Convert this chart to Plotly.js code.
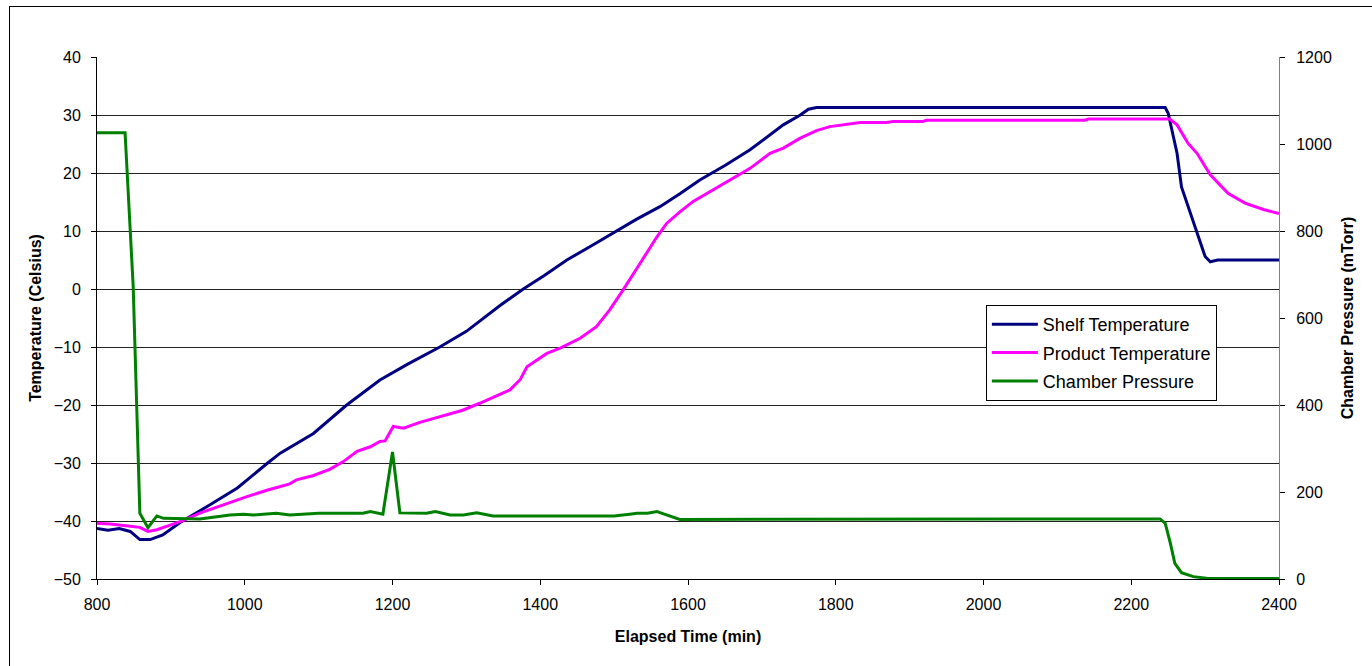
<!DOCTYPE html>
<html>
<head>
<meta charset="utf-8">
<script src="https://cdn.plot.ly/plotly-3.0.1.min.js"></script>
<style>
  html, body { margin:0; padding:0; background:#fff; overflow:hidden; }
  #wrap { position:relative; width:1372px; height:666px; }
  #chart { position:absolute; left:0; top:0; width:1372px; height:666px; }
  #frame { position:absolute; left:9px; top:6px; width:1400px; height:700px; border:1px solid #000; pointer-events:none; }
</style>
</head>
<body>
<div id="wrap">
  <div id="chart"></div>
  <div id="frame"></div>
</div>
<script>
// Shelf temperature (Celsius)
const shelfTime = [800,815,830,845,858,872,889,912,953,990,1031,1048,1093,1138,1183,1220,1264,1300,1346,1377,1405,1436,1470,1503,1530,1562,1590,1616,1650,1684,1705,1729,1752,1763,1774,2246,2250,2262,2268,2280,2293,2300,2307,2317,2400];
const shelfTemp = [-41.3,-41.6,-41.3,-41.8,-43.2,-43.2,-42.4,-40.3,-37.2,-34.3,-30,-28.3,-24.9,-20,-15.7,-13,-10,-7.3,-2.8,0,2.3,5,7.5,10,12,14.2,16.5,18.8,21.3,24,26,28.3,30,31,31.3,31.3,30.3,23.4,17.6,13.0,8.4,5.6,4.7,5.0,5.0];

// Product temperature (Celsius)
const productTime = [800,818,845,858,869,881,899,917,940,971,1003,1030,1061,1070,1092,1115,1133,1152,1170,1183,1190,1201,1215,1237,1264,1295,1318,1342,1359,1373,1382,1409,1427,1454,1476,1494,1512,1535,1558,1571,1589,1607,1630,1657,1684,1711,1729,1752,1774,1792,1815,1833,1869,1878,1918,1923,2137,2142,2252,2262,2277,2289,2307,2331,2354,2379,2400];
const productTemp = [-40.4,-40.5,-40.9,-41.1,-41.8,-41.5,-40.7,-39.9,-38.6,-37.2,-35.8,-34.7,-33.6,-32.9,-32.2,-31.1,-29.8,-28,-27.2,-26.3,-26.2,-23.7,-24.0,-23.0,-22,-20.9,-19.7,-18.4,-17.4,-15.6,-13.4,-11.1,-10.2,-8.5,-6.5,-3.6,-0.2,4.4,9.0,11.3,13.3,15.1,16.8,18.8,20.8,23.4,24.3,26.0,27.3,28.0,28.4,28.7,28.7,28.9,28.9,29.1,29.1,29.3,29.3,28.3,25.1,23.4,19.7,16.5,14.8,13.7,13.0];

// Chamber pressure (mTorr)
const pressureTime = [800,838,849,858,869,881,890,926,939,957,980,998,1012,1025,1043,1061,1100,1160,1170,1187,1200,1210,1246,1258,1278,1296,1314,1336,1386,1500,1521,1531,1545,1558,1563,1580,1589,2239,2246,2253,2259,2268,2284,2302,2400];
const pressureVal = [1026,1026,672,151,118,145,139.5,139.5,138,142,147,149,147,149,151,147,151,151,155,149,292,152,151,155,147,147,152,145,145,145,149,151,151,155,152,142,137,138,128,82,36,14.6,5.4,1.6,1];

const seriesNames = ['Shelf Temperature','Product Temperature','Chamber Pressure'];
const seriesColors = ['#000080','#FF00FF','#008000'];

const FONT = 'Arial, "Liberation Sans", sans-serif';

const traces = [
  {x: shelfTime, y: shelfTemp, name: seriesNames[0], type:'scatter', mode:'lines',
   line:{color:seriesColors[0], width:3}, legendgroup:'a', yaxis:'y'},
  {x: productTime, y: productTemp, name: seriesNames[1], type:'scatter', mode:'lines',
   line:{color:seriesColors[1], width:3}, legendgroup:'b', yaxis:'y'},
  {x: pressureTime, y: pressureVal, name: seriesNames[2], type:'scatter', mode:'lines',
   line:{color:seriesColors[2], width:3}, legendgroup:'c', yaxis:'y2'}
];

const layout = {
  width:1372, height:666,
  margin:{l:97, r:93, t:57, b:87, pad:0},
  paper_bgcolor:'rgba(0,0,0,0)', plot_bgcolor:'#fff',
  font:{family:FONT, size:16, color:'#000'},
  showlegend:true,
  legend:{x:0.752, y:0.525, xanchor:'left', yanchor:'top', bgcolor:'#fff',
          bordercolor:'#000', borderwidth:1, font:{family:FONT, size:18, color:'#000'},
          tracegroupgap:2, itemwidth:46},
  xaxis:{range:[800,2400], tick0:800, dtick:200, ticks:'outside', ticklen:5, tickcolor:'#000',
         showline:true, linecolor:'#000', linewidth:1, showgrid:false, zeroline:false,
         tickfont:{family:FONT, size:16}, ticklabelstandoff:6,
         title:{text:'<b>Elapsed Time (min)</b>', font:{family:FONT, size:16}, standoff:18}},
  yaxis:{range:[-50,40], tick0:-50, dtick:10, ticks:'outside', ticklen:5, tickcolor:'#000',
         showline:true, linecolor:'#000', linewidth:1, showgrid:true, gridcolor:'#222', gridwidth:1,
         zeroline:false, tickfont:{family:FONT, size:16}, ticklabelstandoff:7,
         title:{text:'<b>Temperature (Celsius)</b>', font:{family:FONT, size:16}, standoff:8}},
  yaxis2:{range:[0,1200], tick0:0, dtick:200, overlaying:'y', side:'right', ticks:'outside', ticklen:5,
          tickcolor:'#000', showline:true, linecolor:'#808080', linewidth:1, showgrid:false, zeroline:false,
          tickfont:{family:FONT, size:16}, ticklabelstandoff:8,
          title:{text:'<b>Chamber Pressure (mTorr)</b>', font:{family:FONT, size:16}, standoff:10}}
};

Plotly.newPlot('chart', traces, layout, {displayModeBar:false, staticPlot:true});
</script>
</body>
</html>
